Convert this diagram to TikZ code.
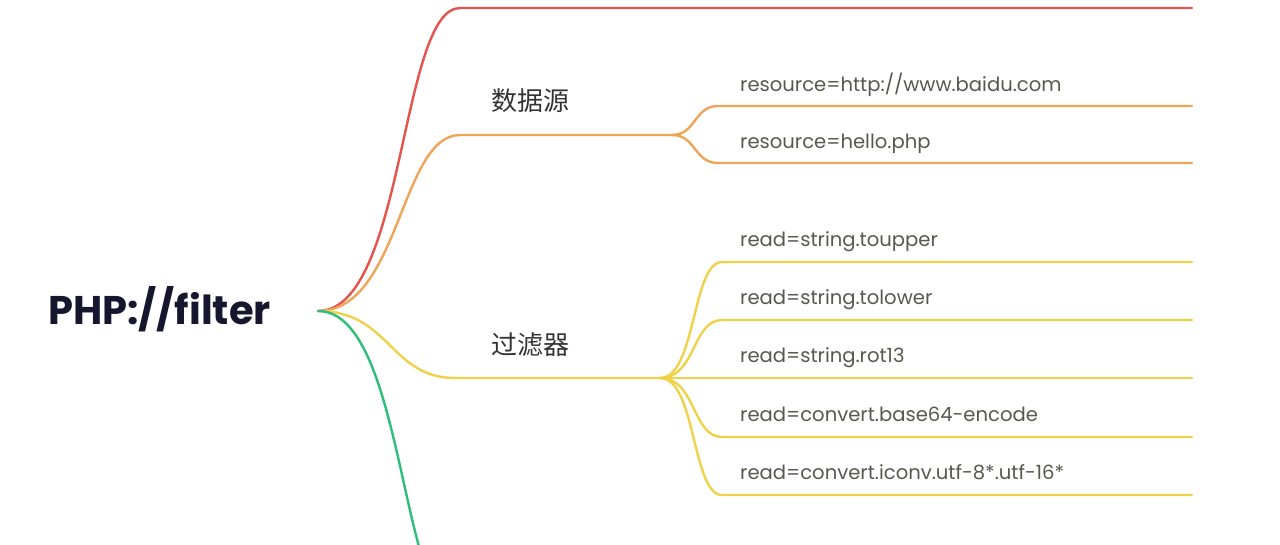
\documentclass[tikz,border=0pt]{standalone}
\usepackage{fontspec}
\setmainfont{Poppins}
\newfontfamily\cjk{Noto Sans CJK SC}
\usetikzlibrary{positioning}

\definecolor{mmred}{HTML}{E5534B}
\definecolor{mmorange}{HTML}{F0A458}
\definecolor{mmyellow}{HTML}{F0D24A}
\definecolor{mmgreen}{HTML}{2DBE78}
\definecolor{rootnavy}{HTML}{16172E}
\definecolor{leafgray}{HTML}{58584F}
\definecolor{topicgray}{HTML}{333333}

\begin{document}
\begin{tikzpicture}[x=1pt,y=-1pt,
  branch/.style={line width=2.4pt, line cap=round},
  leaf/.style={anchor=base west, inner sep=0pt, text=leafgray,
    font=\fontsize{19.6}{19.6}\selectfont},
  topic/.style={inner sep=0pt, text=topicgray,
    font=\cjk\fontsize{26}{26}\selectfont}]
  \useasboundingbox (0,0) rectangle (1280,544);
  \clip (0,0) rectangle (1280,544);

  % central topic
  \node[anchor=base west, inner sep=0pt, text=rootnavy,
    font=\bfseries\fontsize{40}{40}\selectfont] (php) at (48,324) {PHP://filter};
  \coordinate (root) at (318,311);

  % main branches
  \coordinate (top) at (460,8);
  \coordinate (top end) at (1192,8);
  \coordinate (src) at (460,135);
  \coordinate (srcfork) at (672,135);
  \coordinate (flt) at (455,378);
  \coordinate (fltfork) at (660,378);
  \coordinate (low) at (460,613);
  \coordinate (low end) at (1192,613);

  \draw[branch, mmred] (root) .. controls (405,311) and (400,8) .. (top) -- (top end);
  \draw[branch, mmorange] (root) .. controls (400,311) and (400,135) .. (src) -- (srcfork);
  \draw[branch, mmyellow] (root) .. controls (390,311) and (390,378) .. (flt) -- (fltfork);
  \draw[branch, mmgreen] (root) .. controls (405,311) and (400,613) .. (low) -- (low end);

  \node[topic] (data) at (530,101) {数据源};
  \node[topic] (filt) at (530,345) {过滤器};

  % data source leaves
  \coordinate (s1) at (718,106);
  \coordinate (s1 end) at (1192,106);
  \coordinate (s2) at (718,163);
  \coordinate (s2 end) at (1192,163);
  \draw[branch, mmorange] (srcfork) .. controls +(24,0) and +(-24,0) .. (s1) -- (s1 end);
  \draw[branch, mmorange] (srcfork) .. controls +(24,0) and +(-24,0) .. (s2) -- (s2 end);
  \node[leaf] (src1) at (740,91) {resource=http://www.baidu.com};
  \node[leaf] (src2) at (740,148) {resource=hello.php};

  % filter leaves
  \foreach \y/\txt [count=\i] in {262/read=string.toupper, 320/read=string.tolower,
      378/read=string.rot13, 437/read=convert.base64-encode,
      495/read=convert.iconv.utf-8*.utf-16*}{
    \coordinate (f\i) at (722,\y);
    \coordinate (f\i end) at (1192,\y);
    \draw[branch, mmyellow] (fltfork) .. controls +(36,0) and +(-30,0) .. (f\i) -- (f\i end);
    \node[leaf] (flt\i) at (740,\y-16) {\txt};
  }
\end{tikzpicture}
\end{document}
